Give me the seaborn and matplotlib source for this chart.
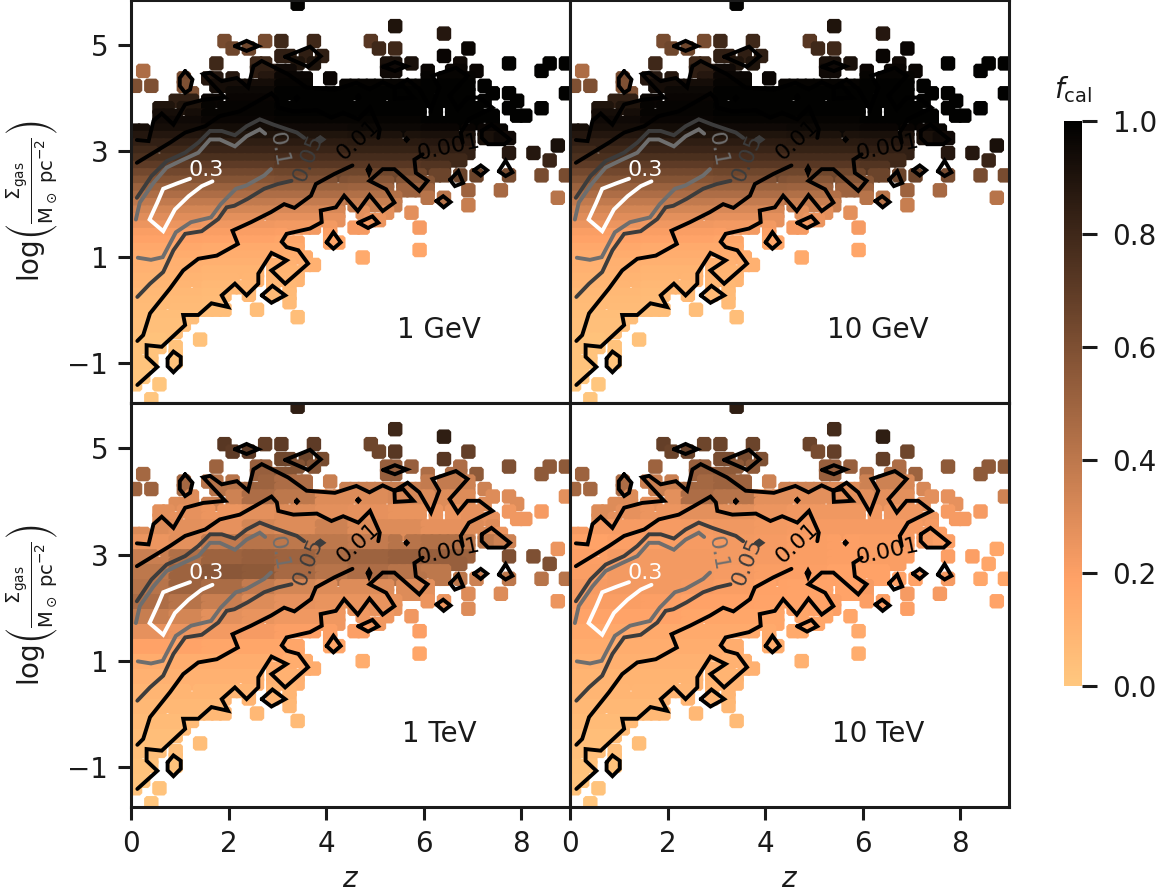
import matplotlib
matplotlib.use("Agg")
import matplotlib.pyplot as plt
from matplotlib.cm import ScalarMappable
from matplotlib.colors import Normalize
from matplotlib.path import Path
import numpy as np
import pandas as pd
import seaborn as sns

sns.set_theme(style="ticks", context="notebook", font_scale=1.0, rc={
    "font.size": 10, "axes.labelsize": 10, "xtick.labelsize": 10, "ytick.labelsize": 10,
    "axes.edgecolor": "k", "axes.linewidth": 1.1, "text.color": "k", "axes.labelcolor": "k",
    "xtick.color": "k", "ytick.color": "k", "font.family": "DejaVu Sans",
})

W, H = 1157, 893
N_COLS, N_ROWS = 54, 54
Z_LIM = (0, 9)
Y_LIM = (-1.75, 5.85)

# occupied z columns of every log(Sigma) row, top row first
occupied = [
    "20", "", "", "32", "38", "11,16,18,22,29", "12,14,30,32,41", "18,19,21,23,38",
    "10,15,16,20,22,31,32,34,40,46,51,53", "1,15-19,31,32,36,39,40,42,50",
    "6,9,10,12,16-21,24,36,38-41", "0,2,6,10-21,26-41,43", "7,12-36,38-41,44,46,53",
    "5-7,9,10,12-41,43,47", "3,4,6-9,11-42,46,50", "3-5,7-44,47,48", "3-40,42,44", "0,1,3-41,43-45",
    "0-41,43-46", "0-41,52", "0-41,46,49", "0-40,51", "0-38",
    "0-35,37,38,40,42,46,50,53", "0-31,33-36", "0-31,33-36,41,45", "0-32,36,38,52",
    "0-25,27-32,41", "0-25,28,31,34", "0-25,29,30", "0-22,24,27,28,35", "0-18,24",
    "0-20,24,25", "0-20,35", "0-16,19-21,28", "0-15,17-19,21,22", "0-15,17-20",
    "0-12,14,15,17-20", "0-14,17,19", "0-11,14,17,19", "0-10,19", "0-11,15", "0-7,20",
    "0-6", "0-5", "0-3,8", "0-3,5", "0-2,5", "0-2,5", "0,1", "0,1", "0,3", "", "2",
]
# single empty cells inside the body, (row, column)
empty_cells = [(13, 19), (13, 27), (13, 31), (14, 36), (15, 36), (14, 38), (15, 38), (15, 42), (17, 40),
               (18, 33), (20, 3), (24, 25), (29, 16), (38, 7), (41, 4), (47, 1)]

# f_cal in percent, one line per row, six z zones (GeV panels)
fcal_gev = [
    [90, 90, 99, 99, 99, 99], [90, 90, 99, 99, 99, 99], [90, 90, 99, 99, 99, 99],
    [60, 60, 85, 90, 90, 95], [60, 60, 85, 90, 88, 95], [60, 62, 80, 72, 90, 95],
    [60, 65, 80, 80, 97, 98], [60, 90, 85, 85, 97, 98], [42, 80, 90, 92, 95, 99],
    [45, 85, 95, 95, 97, 99], [62, 88, 97, 97, 98, 99], [60, 93, 98, 98, 99, 99],
    [60, 96, 99, 99, 99, 99], [85, 97, 99, 99, 99, 99], [90, 98, 99, 99, 99, 99],
    [93, 98, 99, 99, 99, 99], [95, 97, 98, 98, 99, 99], [93, 94, 95, 96, 97, 98],
    [89, 90, 90, 91, 92, 95], [84, 85, 86, 87, 88, 92], [80, 81, 82, 83, 84, 88],
    [76, 76, 77, 78, 80, 82], [70, 70, 72, 72, 74, 70], [64, 64, 65, 65, 66, 62],
    [58, 58, 59, 58, 58, 50], [51, 51, 51, 50, 50, 47], [45, 45, 45, 44, 42, 42],
    [39, 39, 38, 37, 37, 40], [33, 33, 32, 28, 26, 25], [29, 28, 27, 25, 24, 22],
    [25, 24, 23, 22, 20, 20], [21, 21, 20, 19, 19, 18], [19, 18, 17, 17, 17, 18],
    [16, 15, 15, 17, 17, 18], [14, 13, 13, 15, 15, 16], [12, 12, 11, 12, 12, 12],
    [11, 10, 10, 10, 10, 10], [10, 9, 9, 9, 9, 9], [9, 8, 8, 8, 8, 8],
    [8, 7, 7, 7, 7, 7], [7, 6, 6, 6, 6, 6], [6, 5, 5, 5, 5, 5], [5, 5, 5, 5, 5, 5],
    [4, 4, 4, 4, 4, 4], [4, 4, 4, 4, 4, 4], [3, 3, 3, 3, 3, 3], [3, 3, 3, 3, 3, 3],
    [2, 2, 2, 2, 2, 2], [2, 2, 2, 2, 2, 2], [2, 2, 2, 2, 2, 2], [1, 1, 1, 1, 1, 1],
    [1, 1, 1, 1, 1, 1], [1, 1, 1, 1, 1, 1], [1, 1, 1, 1, 1, 1],
]

# f_cal in percent, one line per two rows, twelve z zones (TeV panels)
fcal_1tev = [
    [72, 72, 72, 72, 85, 72, 72, 72, 72, 72, 72, 72],
    [72, 72, 72, 72, 72, 72, 72, 80, 72, 72, 72, 72],
    [72, 72, 72, 68, 70, 70, 65, 70, 85, 70, 70, 70],
    [70, 70, 70, 70, 65, 62, 65, 72, 72, 68, 65, 65],
    [48, 50, 50, 52, 58, 52, 52, 52, 45, 55, 60, 55],
    [50, 48, 42, 50, 45, 36, 36, 36, 38, 35, 40, 55],
    [45, 30, 35, 45, 40, 30, 30, 32, 30, 30, 30, 28],
    [28, 27, 25, 28, 30, 28, 27, 26, 25, 27, 24, 22],
    [30, 28, 27, 33, 30, 35, 30, 30, 27, 30, 25, 25],
    [25, 28, 38, 42, 40, 40, 38, 42, 44, 40, 35, 25],
    [36, 44, 50, 52, 50, 46, 50, 52, 52, 50, 60, 60],
    [40, 50, 56, 55, 47, 42, 45, 42, 40, 35, 40, 42],
    [42, 50, 46, 38, 33, 30, 30, 30, 28, 30, 30, 28],
    [45, 42, 36, 30, 27, 26, 26, 26, 25, 30, 28, 25],
    [37, 33, 28, 26, 24, 24, 24, 24, 24, 24, 24, 24],
    [27, 25, 23, 22, 20, 20, 20, 20, 20, 20, 20, 20],
    [19, 18, 17, 17, 17, 17, 17, 17, 17, 17, 17, 17],
    [14, 13, 13, 13, 13, 13, 13, 13, 13, 13, 13, 13],
    [11, 11, 11, 11, 11, 11, 11, 11, 11, 11, 11, 11],
    [9, 9, 9, 9, 9, 9, 9, 9, 9, 9, 9, 9],
    [8, 8, 8, 8, 8, 8, 8, 8, 8, 8, 8, 8],
    [6, 6, 6, 6, 6, 6, 6, 6, 6, 6, 6, 6],
    [5, 5, 5, 5, 5, 5, 5, 5, 5, 5, 5, 5],
    [4, 4, 4, 4, 4, 4, 4, 4, 4, 4, 4, 4],
    [3, 3, 3, 3, 3, 3, 3, 3, 3, 3, 3, 3],
    [2, 2, 2, 2, 2, 2, 2, 2, 2, 2, 2, 2],
    [1, 1, 1, 1, 1, 1, 1, 1, 1, 1, 1, 1],
]

fcal_10tev = [
    [68, 68, 68, 68, 85, 68, 68, 68, 68, 68, 68, 68],
    [68, 68, 68, 68, 68, 68, 68, 78, 68, 68, 68, 68],
    [68, 68, 68, 65, 66, 66, 66, 66, 85, 66, 66, 66],
    [66, 66, 66, 66, 62, 60, 62, 68, 68, 65, 62, 62],
    [50, 50, 50, 52, 55, 50, 52, 52, 45, 50, 55, 55],
    [48, 45, 36, 48, 50, 35, 35, 30, 35, 32, 30, 35],
    [40, 30, 28, 45, 42, 28, 28, 28, 28, 28, 27, 35],
    [30, 27, 25, 28, 28, 25, 24, 24, 24, 24, 22, 22],
    [22, 22, 22, 23, 24, 23, 22, 22, 22, 22, 20, 20],
    [19, 20, 21, 22, 23, 22, 21, 20, 21, 22, 20, 17],
    [20, 22, 23, 23, 23, 22, 21, 20, 21, 20, 20, 17],
    [21, 23, 23, 23, 22, 21, 20, 19, 19, 19, 22, 17],
    [22, 23, 23, 22, 21, 19, 18, 18, 22, 22, 22, 18],
    [21, 21, 20, 19, 19, 18, 18, 20, 20, 20, 20, 18],
    [18, 18, 18, 17, 17, 17, 17, 17, 17, 17, 17, 17],
    [16, 16, 15, 15, 15, 15, 15, 15, 15, 15, 15, 15],
    [14, 13, 13, 13, 13, 13, 13, 13, 13, 13, 13, 13],
    [12, 12, 11, 11, 11, 11, 11, 11, 11, 11, 11, 11],
    [10, 10, 10, 10, 10, 10, 10, 10, 10, 10, 10, 10],
    [9, 9, 9, 9, 9, 9, 9, 9, 9, 9, 9, 9],
    [8, 8, 8, 8, 8, 8, 8, 8, 8, 8, 8, 8],
    [6, 6, 6, 6, 6, 6, 6, 6, 6, 6, 6, 6],
    [5, 5, 5, 5, 5, 5, 5, 5, 5, 5, 5, 5],
    [4, 4, 4, 4, 4, 4, 4, 4, 4, 4, 4, 4],
    [3, 3, 3, 3, 3, 3, 3, 3, 3, 3, 3, 3],
    [2, 2, 2, 2, 2, 2, 2, 2, 2, 2, 2, 2],
    [1, 1, 1, 1, 1, 1, 1, 1, 1, 1, 1, 1],
]

# contour lines, (z, log Sigma)
level_03 = [[(1.21, 2.48), (.94, 2.39), (.66, 2.29), (.54, 2.03), (.38, 1.71), (.66, 1.49), (.90, 1.90),
             (1.18, 2.15), (1.45, 2.34), (1.67, 2.43)]]
level_01 = [
    [(.10, 1.71), (.18, 2.03), (.46, 2.40), (.73, 2.69), (1.07, 2.84), (1.38, 2.97), (1.62, 3.22),
     (1.82, 3.22), (2.13, 3.09), (2.37, 3.28), (2.64, 3.41), (2.75, 3.33)],
    [(2.87, 2.66), (2.73, 2.54), (2.36, 2.35), (2.15, 2.29), (1.84, 2.00), (1.64, 1.75), (1.23, 1.66),
     (.92, 1.47), (.65, 1.00), (.41, .95), (.14, .99)],
]
level_005 = [
    [(.12, 2.12), (.42, 2.53), (.73, 2.81), (1.11, 2.97), (1.38, 3.16), (1.62, 3.38), (1.86, 3.38),
     (2.13, 3.30), (2.37, 3.47), (2.64, 3.60), (2.92, 3.50), (3.40, 3.35), (3.55, 3.25)],
    [(3.29, 2.44), (3.01, 2.38), (2.73, 2.29), (2.39, 2.10), (2.12, 1.97), (1.96, 1.94), (1.79, 1.72),
     (1.45, 1.49), (1.11, 1.44), (.87, 1.13), (.66, .72), (.39, .50), (.13, .25)],
    [(3.82, 3.22), (3.88, 3.26), (3.94, 3.22), (3.88, 3.18), (3.82, 3.22)],
]
level_001 = [
    [(.12, 2.78), (.46, 2.97), (.80, 3.16), (1.11, 3.35), (1.52, 3.47), (1.82, 3.66), (2.23, 3.75),
     (2.54, 3.91), (2.88, 4.09), (2.99, 3.98), (3.02, 3.82), (3.33, 3.75), (3.81, 3.77), (4.11, 3.63),
     (4.35, 3.72), (4.66, 3.60), (4.90, 3.82), (5.10, 3.41), (5.07, 3.25)],
    [(4.54, 2.73), (4.17, 2.57), (3.79, 2.38), (3.69, 2.16), (3.35, 1.93), (3.14, 2.00), (2.87, 1.85),
     (2.46, 1.66), (2.08, 1.50), (2.19, 1.25), (1.76, 1.03), (1.38, .97), (1.07, .75), (.80, .41),
     (.39, -.06), (.25, -.47), (.13, -.58)],
    [(4.85, 2.65), (4.88, 2.70), (4.91, 2.65), (4.88, 2.58), (4.85, 2.65)],
]
level_0001 = [
    [(.12, 3.21), (.36, 3.19), (.46, 3.57), (.63, 3.71), (.87, 3.50), (1.11, 3.88), (1.48, 3.97),
     (1.93, 4.01), (1.48, 4.45), (1.62, 4.48), (1.86, 4.32), (2.17, 4.38), (2.40, 4.20), (2.51, 4.60),
     (2.68, 4.70), (3.22, 4.45), (3.60, 4.20), (4.18, 4.16), (4.62, 4.29), (4.89, 4.17), (5.16, 4.30),
     (5.40, 4.20), (5.41, 3.99), (5.79, 4.01), (5.58, 4.23), (5.40, 4.20), (5.67, 4.35), (5.91, 4.17),
     (6.15, 3.79), (6.32, 4.20), (6.18, 4.42), (6.66, 4.57), (6.90, 4.42), (6.53, 4.04), (6.70, 3.79),
     (6.90, 4.01), (7.14, 4.01), (7.41, 3.82), (6.93, 3.60), (6.76, 3.35), (6.80, 3.16)],
    [(5.98, 2.94), (5.81, 2.84), (5.84, 2.59), (6.08, 2.44), (5.91, 2.25), (5.40, 2.66), (5.16, 2.66),
     (4.89, 2.44), (5.23, 2.28), (5.40, 2.03), (5.16, 1.87), (4.89, 2.17), (4.65, 1.87), (4.37, 2.16),
     (4.20, 1.94), (3.89, 1.88), (3.91, 1.66), (3.67, 1.54), (3.19, 1.44), (3.09, 1.29), (3.19, 1.19),
     (3.43, 1.13), (3.63, .88), (3.16, .50), (2.88, .75), (3.19, .94), (2.88, 1.08), (2.61, .69),
     (2.61, .50), (2.37, .28), (2.13, .50), (1.86, .28), (1.99, .06), (1.65, .13), (1.38, -.09),
     (1.07, -.09), (1.11, -.28), (.63, -.69), (.32, -.66), (.32, -.88), (.54, -1.07), (.13, -1.41)],
    [(2.13, 4.98), (2.37, 5.08), (2.61, 4.98), (2.37, 4.89), (2.13, 4.98)],
    [(3.16, 4.78), (3.67, 4.97), (3.89, 4.79), (3.63, 4.59), (3.16, 4.78)],
    [(1.11, 4.51), (1.26, 4.35), (1.21, 4.16), (1.11, 4.10), (1.0, 4.23), (1.0, 4.38), (1.11, 4.51)],
    [(5.17, 4.59), (5.41, 4.68), (5.65, 4.60), (5.41, 4.51), (5.17, 4.59)],
    [(7.19, 3.38), (7.39, 3.50), (7.77, 3.22), (7.66, 3.13), (7.32, 3.13), (7.19, 3.25), (7.19, 3.38)],
    [(6.54, 2.46), (6.71, 2.62), (6.81, 2.40), (6.64, 2.34), (6.54, 2.46)],
    [(7.03, 2.64), (7.17, 2.73), (7.30, 2.64), (7.17, 2.54), (7.03, 2.64)],
    [(7.54, 2.62), (7.68, 2.82), (7.82, 2.60), (7.68, 2.53), (7.54, 2.62)],
    [(6.26, 2.06), (6.40, 2.15), (6.55, 2.04), (6.41, 1.94), (6.26, 2.06)],
    [(4.66, 1.65), (4.95, 1.77), (5.07, 1.65), (4.86, 1.55), (4.66, 1.65)],
    [(4.01, 1.28), (4.15, 1.47), (4.30, 1.28), (4.15, 1.16), (4.01, 1.28)],
    [(2.68, .28), (2.90, .46), (3.16, .28), (2.88, .14), (2.68, .28)],
    [(.75, -.91), (.87, -.78), (1.02, -.88), (1.02, -1.03), (.87, -1.17), (.75, -1.06), (.75, -.91)],
    [(3.38, 4.00), (3.40, 4.02), (3.42, 4.00), (3.40, 3.98), (3.38, 4.00)],
    [(4.64, 4.02), (4.66, 4.04), (4.68, 4.02), (4.66, 4.00), (4.64, 4.02)],
    [(5.63, 3.22), (5.65, 3.24), (5.67, 3.22), (5.65, 3.20), (5.63, 3.22)],
]

contours = [level_0001, level_001, level_005, level_01, level_03]
contour_colors = ["#000000", "#000000", "#3c3c3c", "#6e6e6e", "#ffffff"]
contour_labels = ["0.001", "0.01", "0.05", "0.1", "0.3"]
label_z = [6.50, 4.66, 3.63, 3.02, 1.54]
label_y = [3.06, 3.22, 2.87, 3.03, 2.65]
label_angle = [12, 42, 68, -80, 0]

panel_names = ["1 GeV", "10 GeV", "1 TeV", "10 TeV"]
panel_fcal = [fcal_gev, fcal_gev, fcal_1tev, fcal_10tev]


def parse_columns(text):
    cols = []
    for part in filter(None, text.split(",")):
        lo, _, hi = part.partition("-")
        cols.extend(range(int(lo), int(hi or lo) + 1))
    return cols


def panel_frame(table):
    dz = (Z_LIM[1] - Z_LIM[0]) / N_COLS
    dy = (Y_LIM[1] - Y_LIM[0]) / N_ROWS
    table = np.array(table) / 100
    rows = []
    for t, text in enumerate(occupied):
        for c in parse_columns(text):
            if (t, c) in empty_cells:
                continue
            i = t * table.shape[0] // N_ROWS
            j = c * table.shape[1] // N_COLS
            rows.append((c * dz + dz / 2, Y_LIM[1] - (t + .5) * dy, table[i, j]))
    return pd.DataFrame(rows, columns=["z", "logsigma", "fcal"])


# squares with the corners cut
cut = .34
cell_marker = Path([(-cut, -.5), (cut, -.5), (.5, -cut), (.5, cut), (cut, .5), (-cut, .5), (-.5, cut), (-.5, -cut), (-cut, -.5)], closed=True)

fig = plt.figure(figsize=(W / 200, H / 200))
boxes = [(131, 0), (570, 0), (131, 403), (570, 403)]
for k, (left, top) in enumerate(boxes):
    height = 403 if k < 2 else 404
    ax = fig.add_axes([left / W, 1 - (top + height) / H, 439 / W, height / H])
    sns.scatterplot(data=panel_frame(panel_fcal[k]), x="z", y="logsigma", hue="fcal", palette="copper_r",
                    hue_norm=(0, 1), marker=cell_marker, s=27, linewidth=0, legend=False, ax=ax)

    for lines, color in zip(contours, contour_colors):
        for line in lines:
            zs, ys = zip(*line)
            sns.lineplot(x=list(zs), y=list(ys), sort=False, estimator=None, color=color, lw=1.4, ax=ax,
                         solid_joinstyle="miter")
    for txt, lz, ly, angle, color in zip(contour_labels, label_z, label_y, label_angle, contour_colors):
        ax.text(lz, ly, txt, color=color, fontsize=8, rotation=angle, ha="center", va="center")

    ax.text(6.32, -.38, panel_names[k], ha="center", va="center", fontsize=10)
    ax.set_xlim(Z_LIM)
    ax.set_ylim(Y_LIM)
    ax.set_xticks([0, 2, 4, 6, 8])
    ax.set_yticks([-1, 1, 3, 5])
    ax.tick_params(length=4.7, width=1.1)
    ax.set_xlabel("")
    ax.set_ylabel("")
    if k < 2:
        ax.tick_params(axis="x", length=0, labelbottom=False)
    else:
        ax.set_xlabel(r"$z$", labelpad=2.5)
    if k % 2:
        ax.tick_params(axis="y", length=0, labelleft=False)
    else:
        ax.set_ylabel(r"$\log\!\left(\frac{\Sigma_{\rm gas}}{\rm M_\odot\ pc^{-2}}\right)$", labelpad=2.5)

cax = fig.add_axes([1064 / W, 1 - 686 / H, 18 / W, 565 / H])
cbar = fig.colorbar(ScalarMappable(Normalize(0, 1), cmap="copper_r"), cax=cax)
cbar.set_ticks([0, .2, .4, .6, .8, 1])
cbar.outline.set_visible(False)
cax.tick_params(length=5.5, width=1.1, pad=5.5)
cax.text(.5, 1.055, r"$f_{\rm cal}$", transform=cax.transAxes, ha="center", va="center", fontsize=10)

fig.savefig("out.png", dpi=200)
